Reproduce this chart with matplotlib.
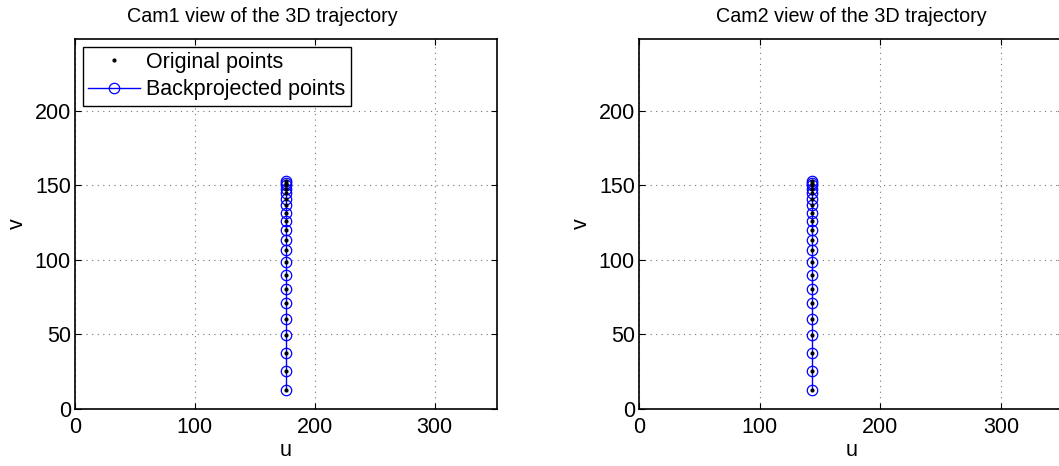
import numpy as np
import matplotlib.pyplot as plt

plt.rcParams['font.family'] = ['Liberation Sans', 'DejaVu Sans']

# image coordinates of the trajectory in both cameras
v_pts = [12.5, 25.5, 37.8, 49.7, 60.6, 70.9, 80.7, 89.9, 98.7, 106.5, 113.6,
         120.3, 126.2, 131.7, 136.7, 140.9, 144.5, 147.7, 150.1, 151.7, 152.6]
u_cam1 = [176] * len(v_pts)
u_cam2 = [143.5] * len(v_pts)
titles = ['Cam1 view of the 3D trajectory', 'Cam2 view of the 3D trajectory']
img_w, img_h = 352, 248

fig = plt.figure(figsize=(10.59, 4.66), dpi=100)
W, H = 1059, 466
rects = [[75 / W, 57 / H, 422 / W, 370 / H],
         [639 / W, 57 / H, 425 / W, 370 / H]]
title_x = [0.443, 0.5]

for i, u in enumerate([u_cam1, u_cam2]):
    ax = fig.add_axes(rects[i])
    ax.plot(u, v_pts, '.', color='k', markersize=4, label='Original points', zorder=3)
    ax.plot(u, v_pts, '-o', color='b', mfc='none', markersize=7.5, linewidth=1,
            markeredgewidth=0.9, label='Backprojected points', zorder=2)
    ax.set_xlim(0, img_w)
    ax.set_ylim(0, img_h)
    ax.set_xticks([0, 100, 200, 300])
    ax.set_yticks([0, 50, 100, 150, 200])
    ax.grid(True, linestyle=(0, (1, 4)), color='0.45', linewidth=0.8)
    ax.tick_params(direction='in', length=4, top=True, right=True, labelsize=15.5)
    ax.tick_params(axis='x', pad=6)
    ax.tick_params(axis='y', pad=3)
    for s in ax.spines.values():
        s.set_linewidth(1.2)
    ax.set_xlabel('u', fontsize=15.5, labelpad=1)
    ax.set_ylabel('v', fontsize=15.5, labelpad=5)
    ax.set_title(titles[i], fontsize=14.2, pad=12, x=title_x[i])
    if i == 0:
        leg = ax.legend(loc='upper left', fontsize=15.5, fancybox=False, framealpha=1,
                        edgecolor='k', borderpad=0.25, handlelength=2.4,
                        handletextpad=0.3, labelspacing=0.3, borderaxespad=0.35)
        leg.get_frame().set_linewidth(1.0)

fig.savefig('out.png', dpi=100)
